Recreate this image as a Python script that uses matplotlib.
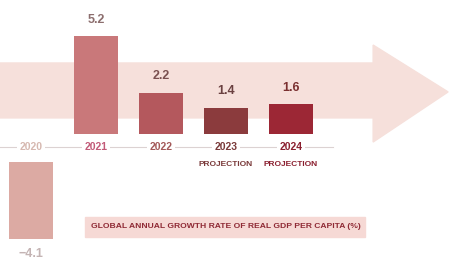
import matplotlib.pyplot as plt
from matplotlib.patches import Polygon, Rectangle

years = ['2020', '2021', '2022', '2023', '2024']
sublabels = ['', '', '', 'PROJECTION', 'PROJECTION']
growth = [-4.1, 5.2, 2.2, 1.4, 1.6]
value_text = ['\u22124.1', '5.2', '2.2', '1.4', '1.6']

bar_colors = ['#dcaaa3', '#c9787a', '#b4585d', '#8b3b3d', '#9c2735']
year_colors = ['#d6b8b0', '#c25a78', '#a35858', '#7a3a3a', '#8b2030']
value_colors = ['#c4b4b4', '#8c6e6e', '#7a5050', '#6a4040', '#7a3030']

plt.rcParams['font.family'] = ['Liberation Sans', 'DejaVu Sans']

fig = plt.figure(figsize=(4.49, 2.68), dpi=100)
ax = fig.add_axes([0, 0, 1, 1])

# big pale arrow behind the bars (axes fraction)
arrow = Polygon([(0, 0.765), (0.831, 0.765), (0.831, 0.832), (0.998, 0.657),
                 (0.831, 0.47), (0.831, 0.56), (0, 0.56)],
                closed=True, transform=ax.transAxes, color='#f6e0db', zorder=0)
ax.add_patch(arrow)

gap = 0.74
x = range(len(years))
bottoms = [gap if v > 0 else -gap for v in growth]
ax.bar(x, growth, bottom=bottoms, width=0.69, color=bar_colors, zorder=2)

ax.plot([-0.48, 4.65], [0.05, 0.05], color='#dcd2d2', lw=0.8, zorder=1)

for i in x:
    ax.text(i, 0.05, years[i], ha='center', va='center', fontsize=7.5,
            fontweight='bold', color=year_colors[i], zorder=3,
            bbox=dict(facecolor='white', edgecolor='none', pad=1.5))
    if sublabels[i]:
        ax.text(i, -0.85, sublabels[i], ha='center', va='center', fontsize=6,
                fontweight='bold', color=year_colors[i], zorder=3)
    v = growth[i]
    if v > 0:
        ax.text(i, v + gap + 0.55, value_text[i], ha='center', va='bottom',
                fontsize=9, fontweight='bold', color=value_colors[i])
    else:
        ax.text(i, v - gap - 0.45, value_text[i], ha='center', va='top',
                fontsize=9, fontweight='bold', color=value_colors[i])

box = Rectangle((85 / 449, 1 - 237 / 268), 280 / 449, 20 / 268,
                transform=ax.transAxes, color='#f6d9d5', zorder=1)
ax.add_patch(box)
ax.text(226 / 449, 1 - 227 / 268, 'GLOBAL ANNUAL GROWTH RATE OF REAL GDP PER CAPITA (%)',
        transform=ax.transAxes, ha='center', va='center', fontsize=6.1,
        fontweight='bold', color='#8f2a35', zorder=3)

ax.set_xlim(-31 / 65, 418 / 65)
ax.set_ylim(-120 / 18.85, 148 / 18.85)
ax.axis('off')

fig.savefig('out.png', dpi=100)
